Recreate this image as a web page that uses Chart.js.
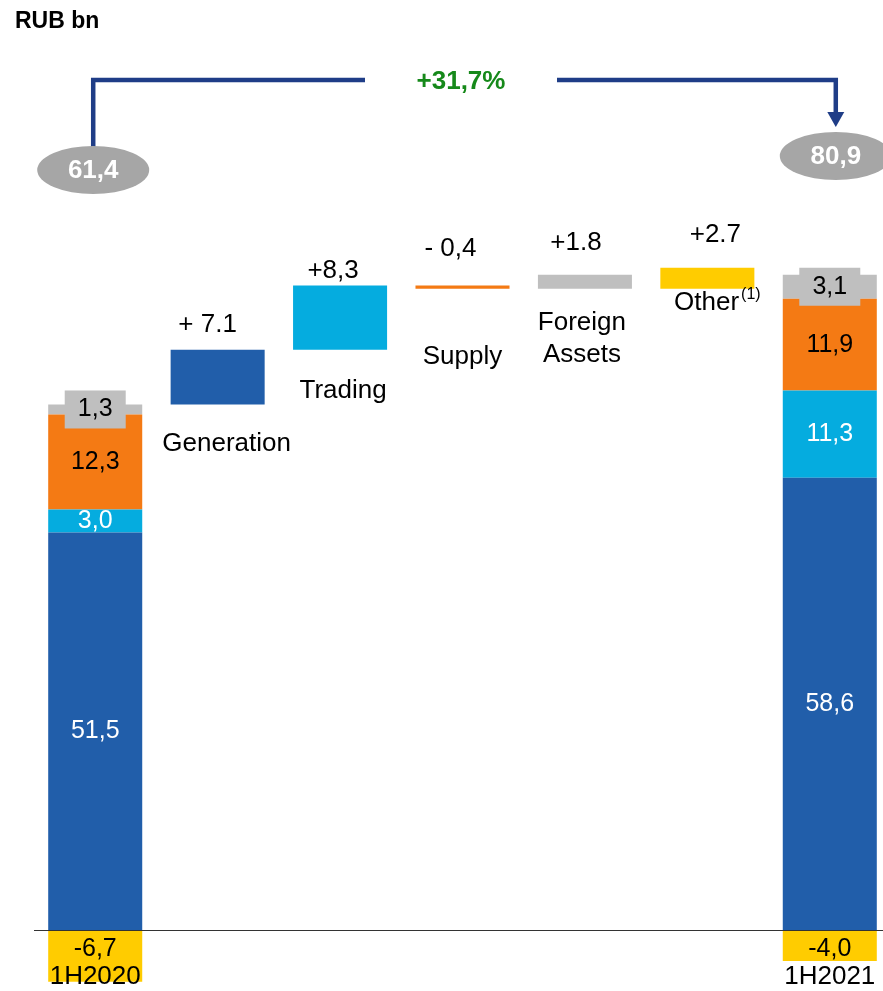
<!DOCTYPE html>
<html>
<head>
<meta charset="utf-8">
<script src="https://cdn.jsdelivr.net/npm/chart.js@4"></script>
<style>
  body { margin: 0; overflow: hidden; background: #fff; }
  #wrap { width: 900px; height: 991px; }
  canvas { display: block; }
</style>
</head>
<body>
<div id="wrap"><canvas id="bridge" width="900" height="991"></canvas></div>
<script>
// EBITDA bridge, RUB bn
const categories = ['1H2020', 'Generation', 'Trading', 'Supply', 'Foreign Assets', 'Other', '1H2021'];
const generation = [51.5, 58.6];
const trading = [3.0, 11.3];
const supply = [12.3, 11.9];
const foreignAssets = [1.3, 3.1];
const other = [-6.7, -4.0];
const netTotals = [61.4, 80.9];
const changeLabels = ['+ 7.1', '+8,3', '- 0,4', '+1.8', '+2.7'];
const growthLabel = '+31,7%';

const BLUE = '#215EAA', CYAN = '#05ACDF', ORANGE = '#F47A14', GRAY = '#BFBFBF', YELLOW = '#FFCC00';
const NAVY = '#1F3D87', GREEN = '#16891A';
const FONT = "'Liberation Sans', Arial, sans-serif";

const n = categories.length;
const segments = [generation, trading, supply, foreignAssets];
const segColors = [BLUE, CYAN, ORANGE, GRAY];
const segText = ['#fff', '#fff', '#000', '#000'];

// stacked columns at both ends, floating steps in between
const datasets = [];
const sumBelow = (k, i) => segments.slice(0, k).reduce((s, g) => s + g[i], 0);
let run = sumBelow(segments.length, 0);
segments.forEach((seg, k) => {
  const data = new Array(n).fill(null);
  const s0 = sumBelow(k, 0), s1 = sumBelow(k, 1);
  data[0] = [s0, s0 + seg[0]];
  data[n - 1] = [s1, s1 + seg[1]];
  const delta = seg[1] - seg[0];
  data[k + 1] = [run, run + delta];
  run += delta;
  datasets.push({ label: categories[k + 1], data, backgroundColor: segColors[k] });
});
const otherData = new Array(n).fill(null);
otherData[0] = [other[0], 0];
otherData[n - 1] = [other[1], 0];
const otherBase = datasets[3].data[4][0]; // level with foreign assets step
otherData[5] = [otherBase, otherBase + (other[1] - other[0])];
datasets.push({ label: 'Other', data: otherData, backgroundColor: YELLOW });

const fmt = v => v.toFixed(1).replace('.', ',');

// label placement for the step columns: [gap above top, dx, gap below bottom, dx]
const stepPlace = [
  [25, -10, 39, 9],
  [15, -7, 41, 3],
  [37, -12, 68, 0],
  [32, -9, 34, -3],
  [33, 8, 14, 10]
];

function text(ctx, str, x, y, size, color, bold, align) {
  ctx.font = (bold ? 'bold ' : '') + size + 'px ' + FONT;
  ctx.fillStyle = color;
  ctx.textAlign = align || 'center';
  ctx.textBaseline = 'middle';
  ctx.fillText(str, x, y);
}

const overlay = {
  id: 'overlay',
  afterDatasetsDraw(chart) {
    const { ctx, chartArea, scales: { x, y } } = chart;
    ctx.save();

    // zero line
    const y0 = Math.round(y.getPixelForValue(0)) + 0.5;
    ctx.strokeStyle = '#333';
    ctx.lineWidth = 1;
    ctx.beginPath();
    ctx.moveTo(chartArea.left, y0);
    ctx.lineTo(chart.width, y0);
    ctx.stroke();

    // values inside the end columns
    [0, n - 1].forEach((i, side) => {
      const cx = x.getPixelForValue(i);
      segments.forEach((seg, k) => {
        const [a, b] = datasets[k].data[i];
        const cy = y.getPixelForValue((a + b) / 2);
        if (k === 3) {
          ctx.fillStyle = GRAY;
          ctx.fillRect(cx - 30.5, cy - 19, 61, 38);
        }
        text(ctx, fmt(seg[side]), cx, cy, 25, segText[k]);
      });
      text(ctx, fmt(other[side]), cx, y0 + 19, 25, '#000');
      text(ctx, categories[i], cx, 977, 26, '#000');
    });

    // step values and names
    for (let k = 0; k < 5; k++) {
      const i = k + 1;
      const [a, b] = datasets[k].data[i];
      const cx = x.getPixelForValue(i);
      const top = y.getPixelForValue(Math.max(a, b));
      const bottom = y.getPixelForValue(Math.min(a, b));
      const p = stepPlace[k];
      text(ctx, changeLabels[k], cx + p[1], top - p[0], 26, '#000');
      const ny = bottom + p[2], nx = cx + p[3];
      if (categories[i] === 'Foreign Assets') {
        text(ctx, 'Foreign', nx, ny, 26, '#000');
        text(ctx, 'Assets', nx, ny + 32, 26, '#000');
      } else if (categories[i] === 'Other') {
        ctx.font = '26px ' + FONT;
        const w1 = ctx.measureText('Other').width;
        ctx.font = '16px ' + FONT;
        const w2 = ctx.measureText('(1)').width;
        const left = nx - (w1 + w2 + 2) / 2;
        text(ctx, 'Other', left, ny, 26, '#000', false, 'left');
        text(ctx, '(1)', left + w1 + 2, ny - 8, 16, '#000', false, 'left');
      } else {
        text(ctx, categories[i], nx, ny, 26, '#000');
      }
    }

    // growth arrow between net totals
    const xl = x.getPixelForValue(0) - 2;
    const xr = x.getPixelForValue(n - 1) + 6;
    ctx.strokeStyle = NAVY;
    ctx.lineWidth = 4.5;
    ctx.lineJoin = 'miter';
    ctx.beginPath();
    ctx.moveTo(xl, 147);
    ctx.lineTo(xl, 80);
    ctx.lineTo(365, 80);
    ctx.moveTo(557, 80);
    ctx.lineTo(xr, 80);
    ctx.lineTo(xr, 113);
    ctx.stroke();
    ctx.fillStyle = NAVY;
    ctx.beginPath();
    ctx.moveTo(xr - 8.5, 112);
    ctx.lineTo(xr + 8.5, 112);
    ctx.lineTo(xr, 127);
    ctx.closePath();
    ctx.fill();
    text(ctx, growthLabel, 461, 82, 26, GREEN, true);

    [[xl, 170], [xr, 156]].forEach(([ex, ey], side) => {
      ctx.fillStyle = '#A6A6A6';
      ctx.beginPath();
      ctx.ellipse(ex, ey, 56, 24, 0, 0, Math.PI * 2);
      ctx.fill();
      text(ctx, fmt(netTotals[side]), ex, ey + 1, 26, '#fff', true);
    });

    text(ctx, 'RUB bn', 15, 22, 23, '#000', true, 'left');
    ctx.restore();
  }
};

new Chart(document.getElementById('bridge'), {
  type: 'bar',
  data: { labels: categories, datasets },
  options: {
    responsive: false,
    devicePixelRatio: 1,
    animation: false,
    layout: { padding: { left: 34, right: 9, top: 0, bottom: 3 } },
    datasets: { bar: { categoryPercentage: 1, barPercentage: 0.768, borderSkipped: false } },
    scales: {
      x: { stacked: true, display: false },
      y: { min: -7.5, max: 120.5, display: false }
    },
    plugins: { legend: { display: false }, tooltip: { enabled: false } }
  },
  plugins: [overlay]
});
</script>
</body>
</html>
